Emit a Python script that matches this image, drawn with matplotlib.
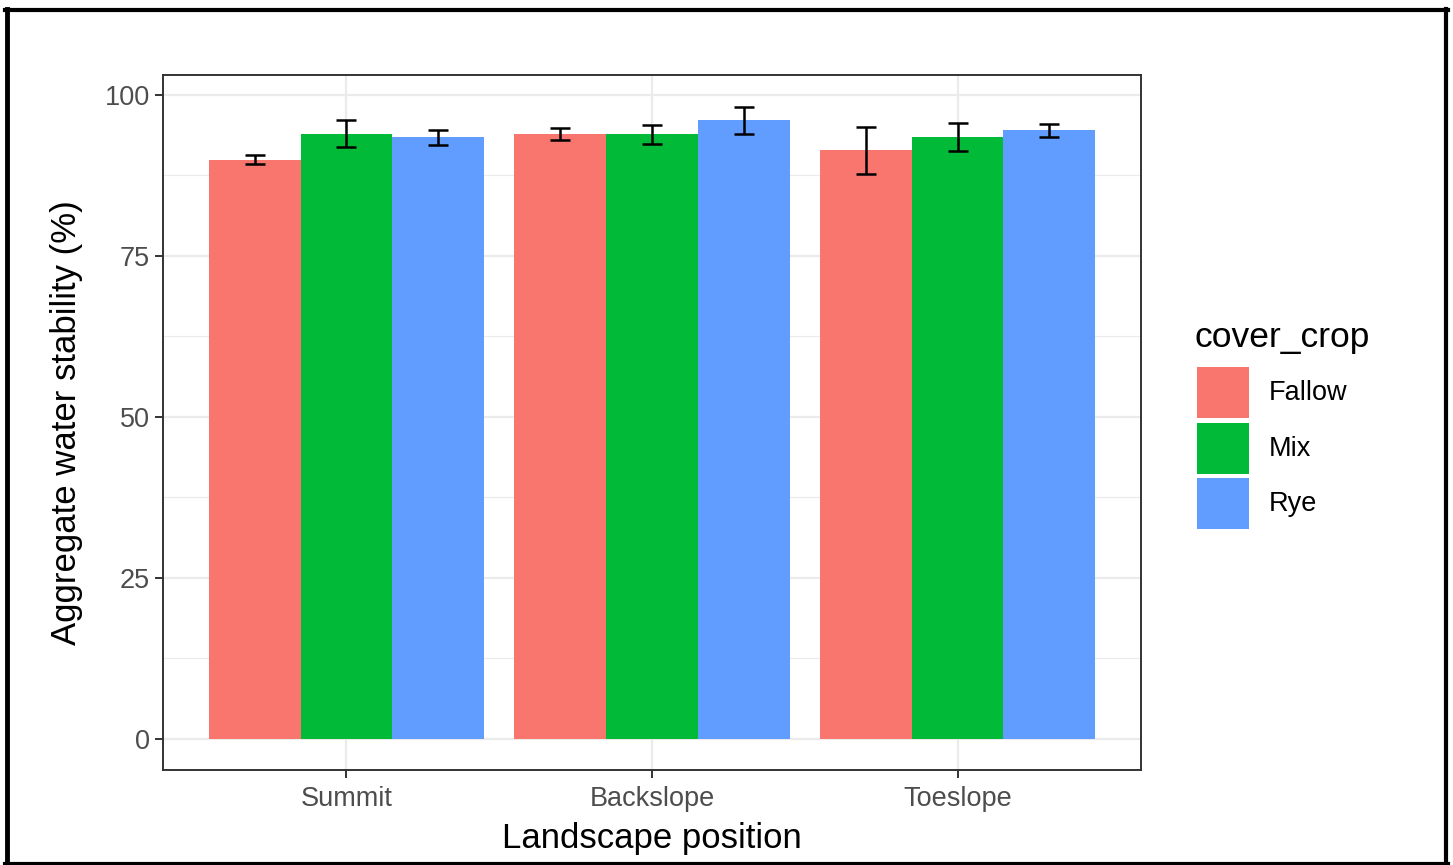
import matplotlib
matplotlib.use("Agg")
import matplotlib.pyplot as plt
import numpy as np
from matplotlib.patches import Rectangle
from matplotlib.lines import Line2D

plt.rcParams["font.family"] = ["Liberation Sans", "DejaVu Sans"]

positions = ["Summit", "Backslope", "Toeslope"]
crops = ["Fallow", "Mix", "Rye"]
colors = ["#F8766D", "#00BA38", "#619CFF"]
means = {
    "Fallow": [89.9, 93.9, 91.4],
    "Mix": [94.0, 93.9, 93.5],
    "Rye": [93.4, 96.1, 94.5],
}
errs = {
    "Fallow": [0.7, 0.9, 3.6],
    "Mix": [2.1, 1.45, 2.15],
    "Rye": [1.2, 2.1, 1.0],
}
yticks = [0, 25, 50, 75, 100]

W, H = 1453, 865
fig = plt.figure(figsize=(W / 100, H / 100), dpi=100)
fig.patch.set_facecolor("white")

ax = fig.add_axes([163 / W, 1 - 770 / H, (1141 - 163) / W, (770 - 75) / H])
x = np.arange(len(positions))
bw = 0.3
for i, c in enumerate(crops):
    xs = x + (i - 1) * bw
    ax.bar(xs, means[c], width=bw, color=colors[i], zorder=2)
    ax.errorbar(xs, means[c], yerr=errs[c], fmt="none", ecolor="black",
                elinewidth=1.8, capsize=7, capthick=1.8, zorder=3)

ax.set_xlim(-0.6, 2.6)
ax.set_ylim(-4.85, 103.1)
ax.set_xticks(x)
ax.set_xticklabels(positions)
ax.set_yticks(yticks)
ax.set_yticks([12.5, 37.5, 62.5, 87.5], minor=True)
ax.grid(True, which="major", color="#EBEBEB", linewidth=1.6, zorder=0)
ax.grid(True, which="minor", axis="y", color="#EBEBEB", linewidth=0.8, zorder=0)
ax.set_axisbelow(True)
for s in ax.spines.values():
    s.set_color("#333333")
    s.set_linewidth(1.4)
ax.tick_params(axis="both", which="major", length=5.5, width=1.4, color="#333333",
               labelsize=19.5, labelcolor="#4D4D4D", pad=4)
ax.tick_params(axis="x", which="major", pad=6)
ax.tick_params(axis="y", which="minor", length=0)

fig.text(652 / W, 1 - 848 / H, "Landscape position", fontsize=25, color="black",
         ha="center", va="baseline")
fig.text(67 / W, 1 - 422.5 / H, "Aggregate water stability (%)", fontsize=25,
         color="black", rotation=90, ha="center", va="center")

# legend
fig.text(1195 / W, 1 - 338 / H, "cover_crop", fontsize=25.5, va="center", ha="left")
key_tops = [367, 423, 478]
for i, c in enumerate(crops):
    fig.patches.append(Rectangle((1197 / W, 1 - (key_tops[i] + 51) / H), 52 / W, 51 / H,
                                 transform=fig.transFigure, facecolor=colors[i],
                                 edgecolor="none"))
    fig.text(1269 / W, 1 - (key_tops[i] + 26) / H, c, fontsize=19.5, va="center", ha="left")

# outer frame
fig.lines.append(Line2D([7 / W, 7 / W], [0, 1 - 9 / H], transform=fig.transFigure, color="black", linewidth=3.5))
fig.lines.append(Line2D([5 / W, 1448 / W], [1 - 9.5 / H, 1 - 9.5 / H], transform=fig.transFigure, color="black", linewidth=3))
fig.lines.append(Line2D([1445.5 / W, 1445.5 / W], [0, 1 - 9 / H], transform=fig.transFigure, color="black", linewidth=3))
fig.lines.append(Line2D([5 / W, 1448 / W], [1.5 / H, 1.5 / H], transform=fig.transFigure, color="black", linewidth=3))

fig.savefig("out.png", dpi=100)
